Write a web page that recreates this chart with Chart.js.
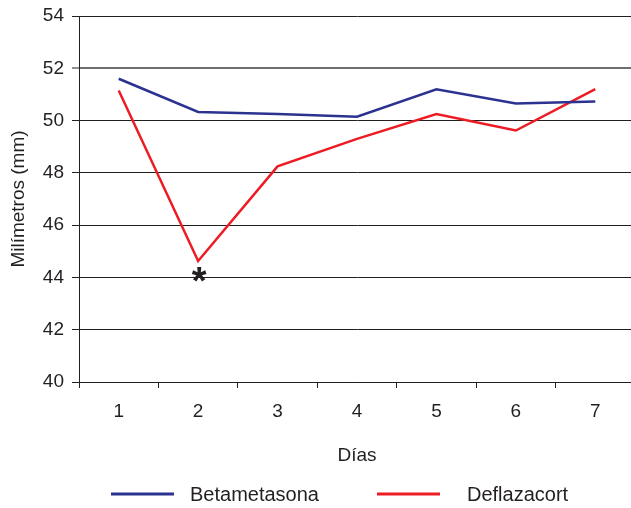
<!DOCTYPE html>
<html><head><meta charset="utf-8">
<script src="https://cdn.jsdelivr.net/npm/chart.js@4"></script>
<style>html,body{margin:0;padding:0;overflow:hidden;background:#fff}#wrap{width:640px;height:508px}</style>
</head><body><div id="wrap"><canvas id="c"></canvas></div>
<script>
const days = ['1', '2', '3', '4', '5', '6', '7'];
const betametasona = [51.6, 50.33, 50.25, 50.15, 51.2, 50.65, 50.73];
const deflazacort = [51.15, 44.63, 48.25, 49.3, 50.25, 49.62, 51.2];
const deflazacortMarks = ['', '*', '', '', '', '', ''];
const yMin = 40, yMax = 54, yStep = 2;
const seriesNames = ['Betametasona', 'Deflazacort'];
const seriesColors = ['#2b3290', '#ed1c24'];
const xTitle = 'Días';
const yTitle = 'Milímetros (mm)';

const ink = '#231f20';
const FONT = 'Liberation Sans, Arial, Helvetica, sans-serif';

const marksPlugin = {
  id: 'marks',
  afterDatasetsDraw(chart) {
    const ctx = chart.ctx;
    const meta = chart.getDatasetMeta(1);
    ctx.save();
    ctx.fillStyle = ink;
    ctx.font = 'bold 38px ' + FONT;
    ctx.textAlign = 'center';
    ctx.textBaseline = 'alphabetic';
    deflazacortMarks.forEach((m, i) => {
      if (!m) return;
      const pt = meta.data[i];
      ctx.fillText(m, pt.x + 1, pt.y + 33);
    });
    ctx.restore();
  }
};

const legendPlugin = {
  id: 'customLegend',
  afterDraw(chart) {
    const ctx = chart.ctx;
    const starts = [111, 377];
    const y = 494;
    ctx.save();
    ctx.font = '20px ' + FONT;
    ctx.textBaseline = 'middle';
    ctx.textAlign = 'left';
    chart.data.datasets.forEach((ds, i) => {
      const x0 = starts[i];
      ctx.strokeStyle = ds.borderColor;
      ctx.lineWidth = 3;
      ctx.beginPath();
      ctx.moveTo(x0, y);
      ctx.lineTo(x0 + 63, y);
      ctx.stroke();
      ctx.fillStyle = ink;
      ctx.fillText(ds.label, x0 + (i === 0 ? 79 : 90), y + 1);
    });
    ctx.restore();
  }
};

new Chart(document.getElementById('c'), {
  type: 'line',
  data: {
    labels: days,
    datasets: [
      { label: seriesNames[0], data: betametasona, borderColor: seriesColors[0], backgroundColor: seriesColors[0], borderWidth: 2.5, pointRadius: 0, tension: 0, fill: false },
      { label: seriesNames[1], data: deflazacort, borderColor: seriesColors[1], backgroundColor: seriesColors[1], borderWidth: 2.5, pointRadius: 0, tension: 0, fill: false }
    ]
  },
  options: {
    responsive: true,
    maintainAspectRatio: false,
    animation: false,
    layout: { padding: { left: 0, right: 5, top: 16, bottom: 36 } },
    plugins: { legend: { display: false }, tooltip: { enabled: false } },
    scales: {
      x: {
        offset: true,
        grid: { display: true, drawOnChartArea: false, drawTicks: true, tickLength: 6, offset: true, color: ink, tickColor: ink, lineWidth: 1 },
        border: { display: true, color: ink, width: 1 },
        ticks: { color: ink, font: { family: FONT, size: 19 }, padding: 12, maxRotation: 0 },
        title: { display: true, text: xTitle, color: ink, font: { family: FONT, size: 19 }, padding: { top: 0, bottom: 5 } },
        afterFit(s) { s.height = 90; s.paddingLeft = 0; s.paddingRight = 0; }
      },
      y: {
        min: yMin, max: yMax,
        ticks: { stepSize: yStep, color: ink, font: { family: FONT, size: 19 }, padding: 8 },
        grid: {
          color: c => (c.tick && c.tick.value === 52) ? '#6d6e71' : ink,
          lineWidth: c => (c.tick && c.tick.value === 52) ? 2 : 1,
          tickColor: ink, tickWidth: 1, tickLength: 7, drawTicks: true
        },
        border: { display: true, color: ink, width: 1 },
        title: { display: true, text: yTitle, color: ink, font: { family: FONT, size: 19 }, padding: { top: 7, bottom: 0 } },
        afterFit(s) { s.width = 79; s.paddingTop = 0; s.paddingBottom = 0; }
      }
    }
  },
  plugins: [marksPlugin, legendPlugin]
});
</script>
</body></html>
